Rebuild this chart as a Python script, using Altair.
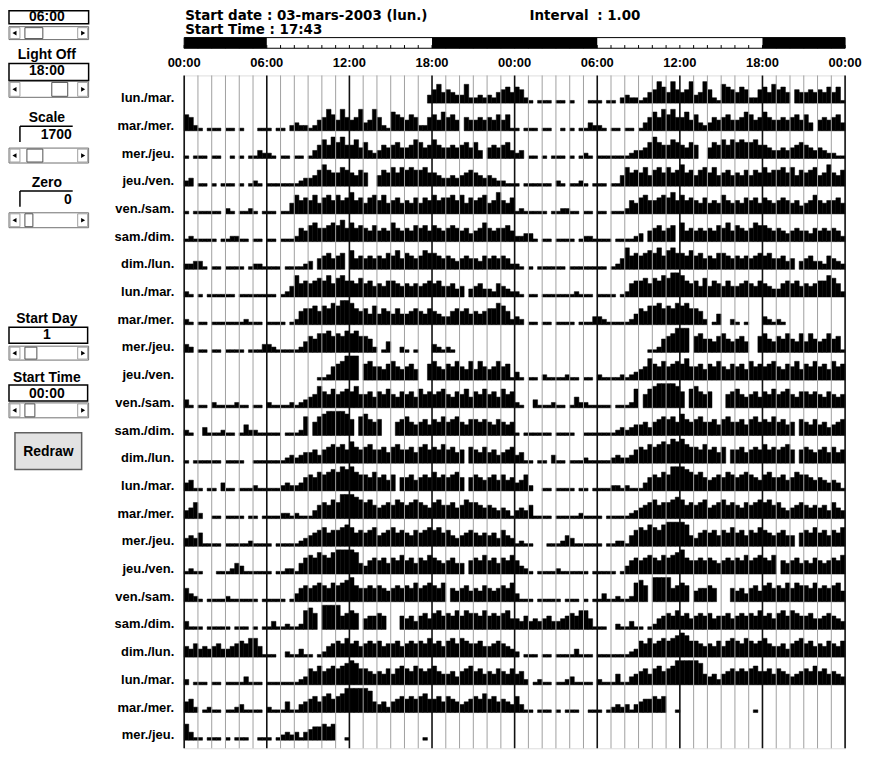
import altair as alt
import pandas as pd

FONT = "Liberation Sans"
HFONT = "DejaVu Sans"

ROW_LABELS = ["lun./mar.", "mar./mer.", "mer./jeu.", "jeu./ven.", "ven./sam.", "sam./dim.", "dim./lun.",
              "lun./mar.", "mar./mer.", "mer./jeu.", "jeu./ven.", "ven./sam.", "sam./dim.", "dim./lun.",
              "lun./mar.", "mar./mer.", "mer./jeu.", "jeu./ven.", "ven./sam.", "sam./dim.", "dim./lun.",
              "lun./mar.", "mar./mer.", "mer./jeu."]

TICK_HOURS = [0, 6, 12, 18, 24, 30, 36, 42, 48]
TICK_LABELS = ["00:00", "06:00", "12:00", "18:00", "00:00", "06:00", "12:00", "18:00", "00:00"]

DARK_PERIODS = [(0, 6), (18, 30), (42, 48)]

# activity per day, 20-minute bins (3 per hour, grouped by hour), level 0-9, '-' = no data
DAYS = [
    "--- --- --- --- --- --- --- --- --- --- --- --- --- --- --- --- --- --3 574 543 372 232 324 564",
    "652 101 110 110 100 011 101 102 322 124 586 485 458 348 521 765 465 225 647 564 -54 454 546 461",
    "101 110 110 010 101 132 210 110 110 135 758 685 574 632 354 564 457 645 754 454 564 63- 454 563",
    "230 110 101 110 101 210 111 111 123 346 865 576 546 5-- 465 757 676 675 543 343 456 543 432 211",
    "101 111 110 210 112 101 110 114 756 574 675 756 856 467 574 564 546 465 756 675 746 567 458 546",
    "121 111 101 122 110 110 110 111 254 675 567 685 756 546 454 754 546 564 654 565 453 457 545 564",
    "223 310 110 111 101 221 111 011 112 3-4 564 56- 745 454 546 574 654 576 654 543 454 435 454 542",
    "210 101 111 110 111 111 110 124 856 567 685 786 657 564 546 654 545 456 564 453 4-3 453 325 432",
    "210 110 111 111 121 110 111 101 256 675 768 799 865 647 465 464 456 546 543 356 564 545 668 752",
    "320 110 110 111 101 113 321 111 124 657 786 768 786 652 014 002 101 000 321 210 000 000 000 000",
    "000 000 000 000 000 000 000 000 000 001 125 679 99- 675 546 754 564 --6 754 657 547 475 457 561",
    "310 110 211 112 110 110 211 112 123 458 657 567 685 564 657 546 564 756 567 546 574 657 564 756",
    "210 031 112 110 142 211 111 011 127 -57 899 998 6-7 865 6-- -56 754 564 657 567 546 656 546 545",
    "101 111 110 111 100 111 111 123 234 453 567 675 865 675 564 675 564 675 657 564 5-6 546 453 456",
    "341 101 103 110 111 211 111 232 235 657 678 798 976 657 564 6-5 564 565 756 567 5-5 654 564 645",
    "346 200 110 111 101 101 111 221 211 135 657 699 987 675 456 576 567 654 675 564 576 654 543 431",
    "343 511 110 111 112 111 101 111 123 456 756 678 756 567 456 756 546 567 675 643 456 545 453 643",
    "121 100 011 124 311 111 101 122 146 768 768 999 984 356 564 657 564 657 654 564 4-5 657 564 657",
    "532 101 111 211 111 101 111 101 356 567 657 678 965 565 654 565 657 567 657 -54 564 546 545 657",
    "311 101 111 101 110 101 131 121 127 86- 999 956 76- 455 65- --5 453 564 675 657 576 657 565 674",
    "435 343 453 345 657 741 110 021 131 101 245 657 564 565 645 564 565 657 564 675 765 564 456 543",
    "201 110 110 111 131 110 111 111 123 657 567 678 986 654 546 467 657 656 754 453 567 564 546 546",
    "452 012 110 112 311 110 211 141 134 564 675 679 999 984 342 456 565 675 564 654 345 657 564 543",
    "631 101 110 101 110 011 101 232 313 455 656 001 000 000 000 000 000 010 --- --- --- --- --- ---",
]

# ---------------- geometry ----------------
W, H = 664, 676
ROW_PX = 27.83
Y_UNITS = H / ROW_PX
LEVEL_UNIT = 2.7 / ROW_PX
OX, OY = 185, 74  # page position of plot origin


def parse(s):
    s = s.replace(" ", "")
    return [0 if c == "-" else int(c) for c in s]


recs = []
for r in range(len(ROW_LABELS)):
    for half in (0, 1):
        d = r + half
        if d >= len(DAYS):
            continue
        lv = parse(DAYS[d])
        for i, L in enumerate(lv):
            if L > 0:
                recs.append({"x0": half * 24 + i / 3, "x1": half * 24 + (i + 1) / 3,
                             "yb": r + 1, "yt": r + 1 - L * LEVEL_UNIT})
bars_df = pd.DataFrame(recs)

xs = alt.Scale(domain=[0, 48], nice=False, zero=False)
ys = alt.Scale(domain=[0, Y_UNITS], nice=False, zero=False, reverse=True)

bars = alt.Chart(bars_df).mark_rect(color="black", stroke="black", strokeWidth=0.5).encode(
    x=alt.X("x0:Q", scale=xs, axis=None), x2="x1:Q",
    y=alt.Y("yb:Q", scale=ys, axis=None), y2="yt:Q")

hours_df = pd.DataFrame({"h": list(range(49))})
minor = alt.Chart(hours_df).transform_filter("datum.h % 6 != 0").mark_rule(
    color="#a0a0a0", strokeWidth=1).encode(x=alt.X("h:Q", scale=xs, axis=None),
                                           y=alt.value(0), y2=alt.value(H))
major = alt.Chart(hours_df).transform_filter("datum.h % 6 == 0").mark_rule(
    color="#111111", strokeWidth=1.6).encode(x=alt.X("h:Q", scale=xs, axis=None),
                                             y=alt.value(0), y2=alt.value(H))

# light/dark bar
LB_TOP, LB_BOT = 36 - OY, 46.7 - OY
lb_frame = alt.Chart(pd.DataFrame({"a": [0], "b": [48]})).mark_rect(
    fill="white", stroke="black", strokeWidth=1).encode(
    x=alt.X("a:Q", scale=xs, axis=None), x2="b:Q", y=alt.value(LB_TOP), y2=alt.value(LB_BOT))
lb_ticks = alt.Chart(hours_df).mark_rule(color="black", strokeWidth=1).encode(
    x=alt.X("h:Q", scale=xs, axis=None), y=alt.value(LB_BOT - 3.2), y2=alt.value(LB_BOT))
dark_df = pd.DataFrame({"a": [p[0] for p in DARK_PERIODS], "b": [p[1] for p in DARK_PERIODS]})
lb_dark = alt.Chart(dark_df).mark_rect(color="black").encode(
    x=alt.X("a:Q", scale=xs, axis=None), x2="b:Q", y=alt.value(LB_TOP), y2=alt.value(LB_BOT))

tick_df = pd.DataFrame({"h": TICK_HOURS, "label": TICK_LABELS})
tick_text = alt.Chart(tick_df).mark_text(font=FONT, fontSize=13, fontWeight="bold",
                                         baseline="middle", align="center").encode(
    x=alt.X("h:Q", scale=xs, axis=None), y=alt.value(61.7 - OY), text="label:N")

row_df = pd.DataFrame({"yb": [i + 1 for i in range(len(ROW_LABELS))], "label": ROW_LABELS})
row_text = alt.Chart(row_df).mark_text(font=FONT, fontSize=13, fontWeight="bold",
                                       baseline="middle", align="right", dy=-5).encode(
    x=alt.value(175 - OX), y=alt.Y("yb:Q", scale=ys, axis=None), text="label:N")

ONE = pd.DataFrame({"a": [1]})


def rect(x1, y1, x2, y2, fill="white", stroke=None, sw=1.0):
    kw = {"fill": fill}
    if stroke is not None:
        kw.update(stroke=stroke, strokeWidth=sw)
    return alt.Chart(ONE).mark_rect(**kw).encode(
        x=alt.value(x1 - OX), x2=alt.value(x2 - OX), y=alt.value(y1 - OY), y2=alt.value(y2 - OY))


def line(x1, y1, x2, y2, color="black", sw=1.0):
    return alt.Chart(ONE).mark_rule(color=color, strokeWidth=sw).encode(
        x=alt.value(x1 - OX), x2=alt.value(x2 - OX), y=alt.value(y1 - OY), y2=alt.value(y2 - OY))


def txt(s, x, y, align="center", size=14, weight="bold", font=FONT):
    return alt.Chart(ONE).mark_text(text=s, font=font, fontSize=size, fontWeight=weight,
                                    align=align, baseline="middle", color="black").encode(
        x=alt.value(x - OX), y=alt.value(y - OY))


def tri(x, y, shape):
    return alt.Chart(ONE).mark_point(shape=shape, filled=True, size=22, color="black", opacity=1).encode(
        x=alt.value(x - OX), y=alt.value(y - OY))


def scrollbar(y1, y2, t1, t2):
    ym = (y1 + y2) / 2
    return [
        rect(9, y1, 89, y2, "white", "#707070", 1),
        rect(10, y1 + 1, 20, y2 - 1, "white", "#a0a0a0", 1),
        rect(78, y1 + 1, 88, y2 - 1, "white", "#a0a0a0", 1),
        rect(t1, y1 + 1, t2, y2 - 1, "white", "#505050", 1),
        tri(14.5, ym, "triangle-left"),
        tri(83.5, ym, "triangle-right"),
    ]


panel = []
panel += [rect(9, 9, 89, 22, "white", "black", 1.5), txt("06:00", 47, 15.5)]
panel += scrollbar(25, 38, 25, 43)
panel += [txt("Light Off", 47, 53)]
panel += [rect(9, 62, 89, 79, "white", "black", 1.5), txt("18:00", 47, 70)]
panel += scrollbar(80, 96, 52, 68)
panel += [txt("Scale", 47, 117)]
panel += [line(20, 125, 73, 125, "black", 1.5), line(20, 125, 20, 141, "black", 1.5),
          txt("1700", 72, 134, align="right")]
panel += scrollbar(147, 162, 27, 43)
panel += [txt("Zero", 47, 182)]
panel += [line(20, 190, 73, 190, "black", 1.5), line(20, 190, 20, 206, "black", 1.5),
          txt("0", 72, 199, align="right")]
panel += scrollbar(212, 227, 25, 33)
panel += [txt("Start Day", 47, 319)]
panel += [rect(9, 327, 88, 343, "white", "black", 1.5), txt("1", 47, 335)]
panel += scrollbar(346, 360, 25, 37)
panel += [txt("Start Time", 47, 378)]
panel += [rect(9, 385, 88, 401, "white", "black", 1.5), txt("00:00", 47, 394)]
panel += scrollbar(403, 418, 25, 35)
panel += [rect(15, 433, 82, 470, "#e2e2e2", "#606060", 1.5), txt("Redraw", 48.5, 452)]

header = [
    txt("Start date : 03-mars-2003 (lun.)", 186, 14.5, align="left", size=13.5, font=HFONT),
    txt("Start Time : 17:43", 186, 28.5, align="left", size=13.5, font=HFONT),
    txt("Interval", 532, 14.5, align="left", size=13.5, font=HFONT),
    txt(": 1.00", 600, 14.5, align="left", size=13.5, font=HFONT),
]

chart = alt.layer(
    bars, minor, major, lb_frame, lb_dark, lb_ticks, tick_text, row_text, *panel, *header
).properties(
    width=W, height=H,
    padding={"left": 177, "top": 66, "right": 18, "bottom": 2},
    autosize=alt.AutoSizeParams(type="none"),
).configure_view(strokeWidth=0).configure(background="white")

chart.save("out.html", embed_options={"renderer": "svg", "actions": False})
